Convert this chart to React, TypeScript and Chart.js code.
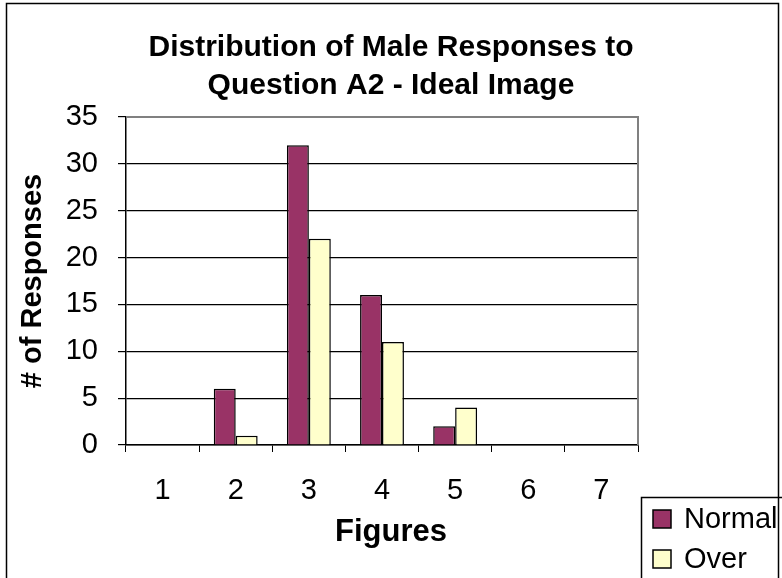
import React, { useEffect, useRef } from "react";
import { Chart, registerables } from "chart.js";

Chart.register(...registerables);

const categories = ["1", "2", "3", "4", "5", "6", "7"];
const normalValues = [0, 6, 32, 16, 2, 0, 0];
const overValues = [0, 1, 22, 11, 4, 0, 0];
const titleLines = ["Distribution of Male Responses to", "Question A2 - Ideal Image"];
const xTitle = "Figures";
const yTitle = "# of Responses";
const seriesNames = ["Normal", "Over"];
const seriesColors = ["#993366", "#FFFFCC"];

const FONT = "'Liberation Sans', Arial, sans-serif";

const framePlugin = {
  id: "framePlugin",
  beforeDraw(chart: any) {
    const ctx = chart.ctx;
    ctx.save();
    ctx.fillStyle = "#ffffff";
    ctx.fillRect(0, 0, chart.width, chart.height);
    ctx.strokeStyle = "#000000";
    ctx.lineWidth = 1.5;
    ctx.strokeRect(6.5, 3.5, 772, 700);
    ctx.restore();
  },
  afterDatasetsDraw(chart: any) {
    const { ctx, chartArea } = chart;
    ctx.save();
    ctx.strokeStyle = "#808080";
    ctx.lineWidth = 2;
    ctx.beginPath();
    ctx.moveTo(chartArea.left, chartArea.top);
    ctx.lineTo(chartArea.right, chartArea.top);
    ctx.lineTo(chartArea.right, chartArea.bottom);
    ctx.stroke();
    ctx.restore();
  },
  afterDraw(chart: any) {
    const ctx = chart.ctx;
    ctx.save();
    ctx.strokeStyle = "#000000";
    ctx.lineWidth = 1.5;
    ctx.strokeRect(641.5, 497.5, 300, 300);
    ctx.font = `29px ${FONT}`;
    ctx.textBaseline = "middle";
    ctx.textAlign = "left";
    chart.data.datasets.forEach((ds: any, i: number) => {
      const y = 510 + i * 40;
      ctx.fillStyle = ds.backgroundColor;
      ctx.fillRect(653, y, 18, 18);
      ctx.lineWidth = 1.5;
      ctx.strokeStyle = "#000000";
      ctx.strokeRect(653, y, 18, 18);
      ctx.fillStyle = "#000000";
      ctx.fillText(ds.label, 684, y + 10);
    });
    ctx.restore();
  },
};

export default function App() {
  const ref = useRef<HTMLCanvasElement | null>(null);
  useEffect(() => {
    if (!ref.current) return;
    const chart = new Chart(ref.current, {
      type: "bar",
      data: {
        labels: categories,
        datasets: [
          {
            label: seriesNames[0],
            data: normalValues,
            backgroundColor: seriesColors[0],
            borderColor: "#000000",
            borderWidth: 1.5,
            categoryPercentage: 0.6,
            barPercentage: 1.0,
          },
          {
            label: seriesNames[1],
            data: overValues,
            backgroundColor: seriesColors[1],
            borderColor: "#000000",
            borderWidth: 1.5,
            categoryPercentage: 0.6,
            barPercentage: 1.0,
          },
        ],
      },
      options: {
        animation: false,
        responsive: false,
        devicePixelRatio: 1,
        layout: { padding: { left: 0, top: 0, right: 0, bottom: 0 } },
        plugins: {
          legend: { display: false },
          tooltip: { enabled: false },
          title: {
            display: true,
            text: titleLines,
            color: "#000000",
            font: { family: FONT, size: 30, weight: "bold", lineHeight: 1.267 },
            padding: { top: 29, bottom: 12 },
          },
          subtitle: {
            display: true,
            position: "bottom",
            text: xTitle,
            color: "#000000",
            font: { family: FONT, size: 31, weight: "bold", lineHeight: 1.15 },
            padding: { top: 0, bottom: 27.35 },
          },
        },
        scales: {
          x: {
            afterFit: (s: any) => {
              s.height = 70;
            },
            grid: {
              drawOnChartArea: false,
              drawTicks: true,
              tickLength: 7,
              tickColor: "#000000",
              offset: true,
            },
            border: { color: "#000000", width: 1.5 },
            ticks: {
              color: "#000000",
              font: { family: FONT, size: 29 },
              padding: 22,
              maxRotation: 0,
            },
          },
          y: {
            min: 0,
            max: 35,
            afterFit: (s: any) => {
              s.width = 126;
            },
            grid: {
              color: (c: any) => (c.tick && c.tick.value === 35 ? "rgba(0,0,0,0)" : "#000000"),
              lineWidth: 1.2,
              tickLength: 8,
              tickColor: "#000000",
            },
            border: { color: "#000000", width: 1.5 },
            ticks: {
              stepSize: 5,
              color: "#000000",
              font: { family: FONT, size: 29 },
              padding: 20,
            },
            title: {
              display: true,
              text: yTitle,
              color: "#000000",
              font: { family: FONT, size: 29, weight: "bold" },
              padding: { top: 16, bottom: 0 },
            },
          },
          yRight: {
            type: "linear",
            position: "right",
            display: true,
            afterFit: (s: any) => {
              s.width = 144;
            },
            grid: { display: false, drawTicks: false },
            border: { display: false },
            ticks: { display: false },
          },
        },
      },
      plugins: [framePlugin],
    } as any);
    return () => chart.destroy();
  }, []);
  return (
    <div style={{ position: "absolute", left: 0, top: 0, width: 782, height: 578, overflow: "hidden" }}>
      <canvas ref={ref} width={782} height={578} style={{ display: "block" }} />
    </div>
  );
}
